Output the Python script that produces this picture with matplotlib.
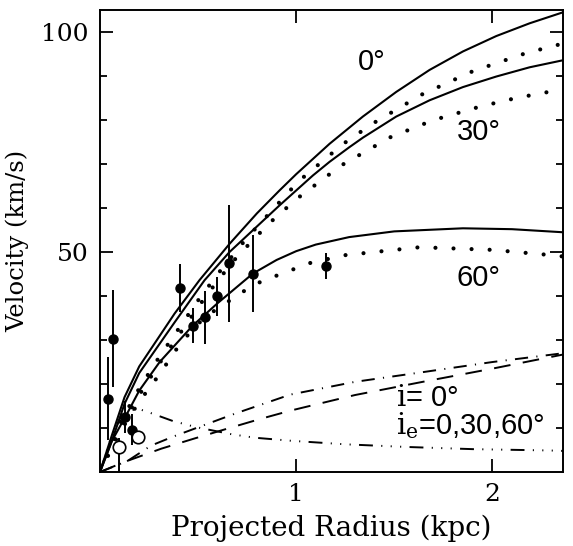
import matplotlib
matplotlib.use("Agg")
import matplotlib.pyplot as plt
import numpy as np

plt.rcParams['font.family'] = 'DejaVu Serif'
plt.rcParams['mathtext.fontset'] = 'dejavuserif'
plt.rcParams['lines.scale_dashes'] = False

# model curves, i = 0 deg
r_s0 = [0, 0.058, 0.125, 0.2, 0.38, 0.507, 0.661, 0.8, 0.915, 1.0, 1.17, 1.34, 1.51, 1.68, 1.85, 2.02, 2.19, 2.36]
v_s0 = [0, 8, 17, 24, 36, 43.6, 51.9, 58.8, 64, 67.7, 74.6, 80.8, 86.4, 91.4, 95.6, 99.1, 102, 104.5]
r_s30 = [0, 0.06, 0.125, 0.2, 0.38, 0.533, 0.66, 0.915, 1.085, 1.17, 1.27, 1.34, 1.51, 1.68, 1.85, 2.02, 2.19, 2.36]
v_s30 = [0, 7, 15.5, 22.5, 34, 43.6, 50, 60.6, 67.4, 70.5, 73.8, 76, 80.8, 84.5, 87.5, 89.9, 92, 93.6]
r_s60 = [0, 0.06, 0.142, 0.2, 0.304, 0.473, 0.6, 0.779, 0.9, 1.0, 1.1, 1.27, 1.5, 1.85, 2.1, 2.36]
v_s60 = [0, 7, 13.6, 18.5, 25, 33.3, 38.4, 45.1, 48.2, 50.2, 51.7, 53.4, 54.7, 55.4, 55.2, 54.5]

r_d0 = [0, 0.1, 0.2, 0.3, 0.4, 0.5, 0.6, 0.745, 1.01, 1.237, 1.39, 1.64, 1.9, 2.17, 2.36]
v_d0 = [0, 11, 19, 26, 32.5, 39, 45, 53, 66, 74.5, 79.2, 85.8, 91.1, 95.2, 97.4]
r_d30 = [0, 0.1, 0.2, 0.3, 0.4, 0.5, 0.6, 0.7, 0.859, 1.003, 1.23, 1.48, 1.7, 1.94, 2.12, 2.31, 2.36]
v_d30 = [0, 10, 17.5, 24.5, 31, 37.5, 43.5, 49, 56.4, 62.1, 69.7, 76.1, 80, 83.1, 85, 86.6, 86.9]
r_d60 = [0, 0.1, 0.2, 0.3, 0.414, 0.533, 0.626, 0.711, 0.796, 0.88, 0.97, 1.06, 1.25, 1.63, 2.0, 2.3, 2.36]
v_d60 = [0, 9, 16, 22, 29.5, 35.2, 37.9, 40.5, 42.8, 44.3, 45.8, 47.4, 49.3, 51.1, 50.5, 49.3, 49]

# components
r_dd = [0, 0.14, 0.26, 0.37, 0.69, 0.97, 1.3, 1.645, 2.0, 2.36]
v_dd = [0, 2.5, 6, 8, 13.3, 17.6, 20.5, 22.7, 25, 27]
r_da = [0, 0.125, 0.312, 0.48, 0.652, 0.82, 0.975, 1.3, 1.645, 2.0, 2.36]
v_da = [0, 2.3, 5.3, 7.6, 9.9, 12.1, 14, 17.5, 20.5, 23.5, 26.7]
r_d3 = [0, 0.05, 0.1, 0.15, 0.2, 0.253, 0.371, 0.49, 0.669, 0.788, 0.975, 1.25, 1.56, 1.9, 2.29, 2.36]
v_d3 = [0, 7, 12, 14, 14.3, 13.5, 11.6, 10.2, 8.6, 7.8, 7.1, 6.3, 5.7, 5.2, 4.9, 4.8]

# observed points
r_obs = [0.04, 0.066, 0.13, 0.165, 0.409, 0.473, 0.533, 0.596, 0.657, 0.779, 1.153]
v_obs = [16.7, 30.3, 12.5, 9.6, 41.8, 33.3, 35.2, 39.9, 47.5, 45.1, 46.8]
e_obs = [9.5, 11, 3.7, 3.5, 5.4, 4, 6, 4.5, 13.3, 8.8, 3]
r_open = [0.096, 0.193]
v_open = [5.7, 8.0]
e_open_lo = [5.7, 0]
e_open_hi = [2, 0]

fig = plt.figure(figsize=(5.73, 5.46), dpi=100)
ax = fig.add_axes([0.1745, 0.1355, 0.808, 0.846])

ax.plot(r_s0, v_s0, color='k', lw=1.5)
ax.plot(r_s30, v_s30, color='k', lw=1.5)
ax.plot(r_s60, v_s60, color='k', lw=1.5)
dots = (0, (0.01, 13))
for rr, vv in [(r_d0, v_d0), (r_d30, v_d30), (r_d60, v_d60)]:
    ax.plot(rr, vv, color='k', lw=3, linestyle=dots, dash_capstyle='round')

ax.plot(r_dd, v_dd, color='k', lw=1.4, linestyle=(0, (9.5, 6, 0.8, 6)))
ax.plot(r_da, v_da, color='k', lw=1.4, linestyle=(0, (12, 9)))
ax.plot(r_d3, v_d3, color='k', lw=1.4, linestyle=(0, (10, 6, 0.8, 6, 0.8, 6, 0.8, 6)))

ax.errorbar(r_obs, v_obs, yerr=e_obs, fmt='o', color='k', ms=6.5, elinewidth=1.4, capsize=0)
ax.errorbar(r_open, v_open, yerr=[e_open_lo, e_open_hi], fmt='o', mfc='white', mec='k', mew=1.2,
            ecolor='k', ms=9, elinewidth=1.4, capsize=0)

lab = dict(family='Liberation Sans', fontsize=21)
ax.text(1.383, 93.3, '0°', ha='center', va='center', **lab)
ax.text(1.93, 77.2, '30°', ha='center', va='center', **lab)
ax.text(1.93, 44.1, '60°', ha='center', va='center', **lab)
ax.text(1.51, 14.9, r'$\mathrm{i}$= 0°', ha='left', va='baseline', **lab)
ax.text(1.51, 8.6, r'$\mathrm{i}_\mathrm{e}$=0,30,60°', ha='left', va='baseline', **lab)

ax.set_xlim(0, 2.36)
ax.set_ylim(0, 105)
ax.set_xticks([1, 2])
ax.set_yticks([50, 100])
ax.set_yticks(np.arange(10, 105, 10), minor=True)
ax.tick_params(which='both', direction='in', top=True, right=True, labelsize=18, width=1.3)
ax.tick_params(which='major', length=9.5, pad=8)
ax.tick_params(which='minor', length=5)
for s in ax.spines.values():
    s.set_linewidth(1.4)

ax.set_xlabel('Projected Radius (kpc)', fontsize=20, labelpad=6)
ax.set_ylabel('Velocity (km/s)', fontsize=17.5, labelpad=9)

plt.savefig('out.png', dpi=100)
